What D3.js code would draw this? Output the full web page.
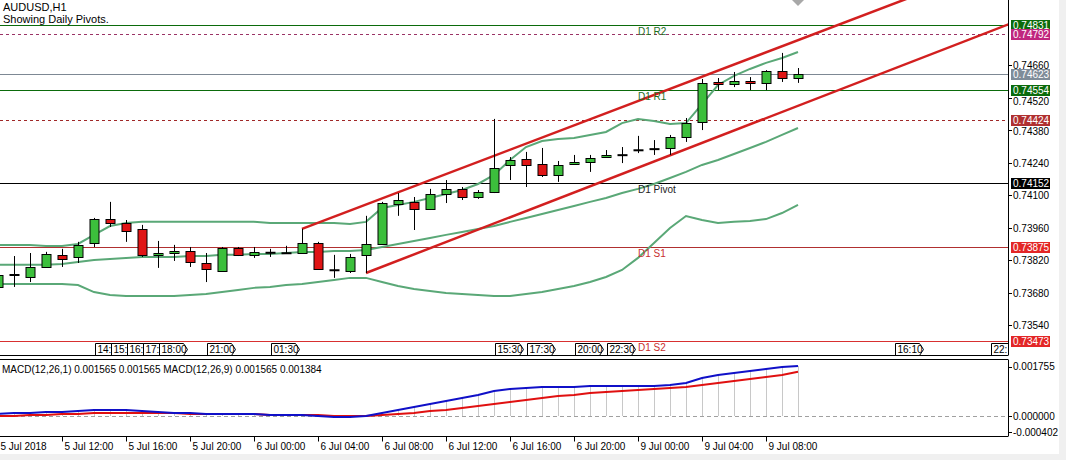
<!DOCTYPE html>
<html><head><meta charset="utf-8">
<script src="https://cdn.jsdelivr.net/npm/d3@7"></script>
<style>
html,body{margin:0;padding:0;background:#fff;}
svg{display:block;font-family:"Liberation Sans",Arial,sans-serif;}
</style></head><body>
<svg id="c" width="1066" height="460"></svg>
<script>
// ---------------- DATA ----------------
const symbolTitle = "AUDUSD,H1";
const subTitle = "Showing Daily Pivots.";
const opens = [0.73705,0.73757,0.73748,0.73791,0.73843,0.73834,0.73894,0.73998,0.73981,0.73955,
0.73843,0.73851,0.73860,0.73808,0.73774,0.73873,0.73843,0.73851,0.73851,0.73851,
0.73894,0.73778,0.73774,0.73843,0.73890,0.74062,0.74071,0.74041,0.74105,0.74127,
0.74092,0.74114,0.74230,0.74256,0.74234,0.74187,0.74234,0.74243,0.74264,0.74273,
0.74294,0.74299,0.74303,0.74350,0.74415,0.74587,0.74578,0.74591,0.74583,0.74634,
0.74604];
const highs = [0.73778,0.73838,0.73851,0.73856,0.73869,0.73899,0.74002,0.74071,0.73993,0.73972,
0.73903,0.73886,0.73877,0.73851,0.73877,0.73877,0.73877,0.73869,0.73882,0.73955,
0.73899,0.73843,0.73847,0.74011,0.74071,0.74109,0.74092,0.74127,0.74165,0.74135,
0.74122,0.74428,0.74264,0.74286,0.74303,0.74247,0.74273,0.74273,0.74294,0.74307,
0.74355,0.74337,0.74359,0.74432,0.74600,0.74604,0.74630,0.74608,0.74638,0.74712,
0.74647];
const lows = [0.73692,0.73705,0.73726,0.73787,0.73791,0.73808,0.73877,0.73963,0.73899,0.73834,
0.73787,0.73817,0.73791,0.73726,0.73774,0.73838,0.73830,0.73834,0.73847,0.73851,
0.73778,0.73744,0.73765,0.73765,0.73886,0.74011,0.73950,0.74036,0.74066,0.74079,
0.74084,0.74109,0.74165,0.74135,0.74178,0.74157,0.74234,0.74200,0.74260,0.74238,
0.74281,0.74273,0.74273,0.74329,0.74380,0.74552,0.74565,0.74552,0.74552,0.74587,
0.74583];
const closes = [0.73757,0.73756,0.73791,0.73847,0.73825,0.73886,0.73998,0.73981,0.73946,0.73843,
0.73851,0.73860,0.73812,0.73782,0.73873,0.73843,0.73856,0.73852,0.73850,0.73894,
0.73782,0.73777,0.73834,0.73890,0.74066,0.74079,0.74041,0.74105,0.74127,0.74092,
0.74114,0.74217,0.74251,0.74230,0.74187,0.74230,0.74243,0.74260,0.74273,0.74272,
0.74293,0.74298,0.74350,0.74410,0.74583,0.74578,0.74591,0.74583,0.74634,0.74604,
0.74623];
const bbUpper = [0.73886,0.73886,0.73886,0.73881,0.73881,0.73890,0.73929,0.73967,0.73980,0.73985,
0.73985,0.73985,0.73985,0.73985,0.73985,0.73985,0.73985,0.73980,0.73980,0.73980,
0.73980,0.73980,0.73976,0.73985,0.74045,0.74058,0.74071,0.74088,0.74105,0.74122,
0.74148,0.74187,0.74251,0.74307,0.74333,0.74342,0.74346,0.74359,0.74372,0.74410,
0.74428,0.74419,0.74406,0.74410,0.74492,0.74574,0.74613,0.74643,0.74669,0.74690,
0.74716];
const bbMiddle = [0.73800,0.73800,0.73800,0.73800,0.73804,0.73812,0.73821,0.73825,0.73830,0.73834,
0.73834,0.73834,0.73838,0.73838,0.73843,0.73843,0.73847,0.73847,0.73851,0.73855,
0.73855,0.73860,0.73860,0.73864,0.73877,0.73890,0.73903,0.73916,0.73929,0.73941,
0.73954,0.73967,0.73985,0.74002,0.74019,0.74036,0.74053,0.74071,0.74088,0.74109,
0.74127,0.74148,0.74174,0.74200,0.74230,0.74251,0.74277,0.74303,0.74329,0.74359,
0.74389];
const bbLower = [0.73718,0.73718,0.73718,0.73718,0.73718,0.73713,0.73683,0.73670,0.73666,0.73666,
0.73666,0.73666,0.73670,0.73675,0.73683,0.73692,0.73701,0.73705,0.73713,0.73718,
0.73726,0.73735,0.73744,0.73744,0.73726,0.73709,0.73696,0.73688,0.73679,0.73675,
0.73670,0.73666,0.73666,0.73675,0.73683,0.73696,0.73709,0.73726,0.73748,0.73778,
0.73830,0.73894,0.73959,0.74010,0.73993,0.73980,0.73985,0.73989,0.73997,0.74023,
0.74058];
const macdMain = [0.000063,0.000094,0.000094,0.000125,0.000125,0.000156,0.000188,0.000188,0.000188,0.000156,
0.000125,0.000094,0.000094,0.000063,0.000063,0.000063,0.000063,0.000031,0.000031,0.000031,
0.000000,-0.000031,-0.000031,0.000000,0.000094,0.000188,0.000281,0.000375,0.000469,0.000563,
0.000656,0.000781,0.000844,0.000875,0.000906,0.000906,0.000906,0.000938,0.000938,0.000938,
0.000938,0.000938,0.000969,0.001031,0.001188,0.001281,0.001344,0.001406,0.001469,0.001531,
0.001565];
const macdSignal = [0.000000,0.000000,0.000031,0.000031,0.000063,0.000063,0.000094,0.000094,0.000094,0.000094,
0.000094,0.000094,0.000063,0.000063,0.000063,0.000063,0.000063,0.000031,0.000031,0.000031,
0.000031,0.000000,0.000000,0.000000,0.000031,0.000063,0.000094,0.000156,0.000188,0.000250,
0.000313,0.000375,0.000438,0.000500,0.000563,0.000625,0.000656,0.000719,0.000750,0.000781,
0.000813,0.000844,0.000875,0.000906,0.000969,0.001031,0.001094,0.001156,0.001219,0.001281,
0.001384];
const priceTicks = [0.74660,0.74520,0.74380,0.74240,0.74100,0.73960,0.73820,0.73680,0.73540];
const timeTickBars = [0,4,8,12,16,20,24,28,32,36,40,44,48];
const timeTickLabels = ["5 Jul 2018","5 Jul 12:00","5 Jul 16:00","5 Jul 20:00","6 Jul 00:00","6 Jul 04:00",
  "6 Jul 08:00","6 Jul 12:00","6 Jul 16:00","6 Jul 20:00","9 Jul 00:00","9 Jul 04:00","9 Jul 08:00"];
const levelValues = [0.74831,0.74792,0.74623,0.74554,0.74424,0.74152,0.73875,0.73473];
const levelNames  = ["D1 R2","","","D1 R1","","D1 Pivot","D1 S1","D1 S2"];
const channelUpper = [[19,0.73955],[40,0.74505]];
const channelLower = [[23,0.73765],[40,0.74218]];
const eventBars = [6,7,8,9,10,13,17,31,33,36,38,56,62];
const eventLabels = ["14:00","15:00","16:00","17:00","18:00","21:00","01:30","15:30","17:30","20:00","22:30","16:10","22:00"];
const macdHeader = "MACD(12,26,1) 0.001565 0.001565 MACD(12,26,9) 0.001565 0.001384";
const macdAxisLabels = [0.001755,0.000000,-0.000402];

// ---------------- STYLES ----------------
const levelStyle = [
  {line:"#0b6b0b", dash:null,  box:"#0b6b0b", text:"#1f6e1f"},
  {line:"#9b3366", dash:"3,3", box:"#c0267e", text:null},
  {line:"#7d8894", dash:null,  box:"#7f8c99", text:null},
  {line:"#0b6b0b", dash:null,  box:"#0b6b0b", text:"#1f6e1f"},
  {line:"#a02828", dash:"3,3", box:"#b03030", text:null},
  {line:"#000000", dash:null,  box:"#000000", text:"#222222"},
  {line:"#b03030", dash:null,  box:"#e32626", text:"#c83030"},
  {line:"#d83030", dash:null,  box:"#e32626", text:"#c83030"}
];

const W=1066, H=460, plotR=1008, mainB=355.5, macdT=359.5, macdB=436.5;
const svg = d3.select("#c");
const n = opens.length;
const x = d3.scaleLinear().domain([0, n-1]).range([-2, 798]);
const y = d3.scaleLinear().domain([0.734100, 0.749397]).range([mainB, 0]);
const ym = d3.scaleLinear().domain([0, 0.0015625]).range([416, 366]);

svg.append("rect").attr("width",W).attr("height",H).attr("fill","#fff");
svg.append("rect").attr("x",1059).attr("y",0).attr("width",7).attr("height",H).attr("fill","#f0f0f0");
svg.append("rect").attr("x",0).attr("y",454).attr("width",W).attr("height",6).attr("fill","#f0f0f0");

const defs = svg.append("defs");
defs.append("clipPath").attr("id","cm").append("rect").attr("x",0).attr("y",0).attr("width",plotR).attr("height",mainB);
defs.append("clipPath").attr("id","cd").append("rect").attr("x",0).attr("y",macdT).attr("width",plotR).attr("height",macdB-macdT);

const gm = svg.append("g").attr("clip-path","url(#cm)");

// level lines
levelValues.forEach((v,i)=>{
  const yy = Math.round(y(v))+0.5;
  gm.append("line").attr("x1",0).attr("x2",plotR).attr("y1",yy).attr("y2",yy)
    .attr("stroke",levelStyle[i].line).attr("stroke-width",1)
    .attr("stroke-dasharray",levelStyle[i].dash);
});

// Bollinger bands
const idx = d3.range(n);
[bbUpper,bbMiddle,bbLower].forEach(arr=>{
  gm.append("path").datum(idx)
    .attr("d", d3.line().x(i=>x(i)).y(i=>y(arr[i])))
    .attr("fill","none").attr("stroke","#5aa877").attr("stroke-width",2);
});

// channel lines
[channelUpper, channelLower].forEach(c=>{
  const slope = (c[1][1]-c[0][1])/(c[1][0]-c[0][0]);
  const endBar = x.invert(plotR+10);
  const endVal = c[0][1] + slope*(endBar-c[0][0]);
  gm.append("line").attr("x1",x(c[0][0])).attr("y1",y(c[0][1]))
    .attr("x2",x(endBar)).attr("y2",y(endVal))
    .attr("stroke","#d21f1f").attr("stroke-width",2.5);
});

// candles
idx.forEach(i=>{
  const cx = Math.round(x(i))+0.5;
  gm.append("line").attr("x1",cx).attr("x2",cx)
    .attr("y1",y(highs[i])).attr("y2",y(lows[i])).attr("stroke","#000").attr("stroke-width",1);
  const yo = y(opens[i]), yc = y(closes[i]);
  if (Math.abs(yo-yc) < 1) {
    gm.append("line").attr("x1",cx-5).attr("x2",cx+5).attr("y1",yc).attr("y2",yc)
      .attr("stroke","#000").attr("stroke-width",2);
  } else {
    const top = Math.round(Math.min(yo,yc))+0.5, bot = Math.round(Math.max(yo,yc))+0.5;
    gm.append("rect").attr("x",cx-4.5).attr("y",top).attr("width",9).attr("height",bot-top)
      .attr("fill", closes[i]>opens[i] ? "#3cbf3c" : "#e01515")
      .attr("stroke","#000").attr("stroke-width",1);
  }
});

// level names
levelValues.forEach((v,i)=>{
  if (!levelNames[i]) return;
  gm.append("text").attr("x",638).attr("y",y(v)+10).attr("font-size",10)
    .attr("fill",levelStyle[i].text).text(levelNames[i]);
});

// event time markers (later labels overlap earlier ones, so earlier ones show truncated)
eventBars.forEach((b,i)=>{
  const x0 = Math.round(x(b))+1.5, t=343.5, bt=355.5, w=24, a=4;
  const next = i < eventBars.length-1 ? Math.round(x(eventBars[i+1]))+1.5 : plotR;
  const avail = next - x0;
  const label = avail >= 30 ? eventLabels[i] : eventLabels[i].slice(0, Math.max(1, Math.floor((avail-2)/4.6)));
  const g = gm.append("g");
  g.append("path").attr("d",`M${x0},${t}H${x0+w}L${x0+w+a},${(t+bt)/2}L${x0+w},${bt}H${x0}Z`)
    .attr("fill","#fff").attr("stroke","#000").attr("stroke-width",1);
  g.append("text").attr("x",x0+2).attr("y",353).attr("font-size",10).attr("fill","#000").text(label);
});

// chart shift marker
svg.append("path").attr("d",`M${x(n-1)-6},0H${x(n-1)+6}L${x(n-1)},6Z`).attr("fill","#a8a8a8");

// title
svg.append("text").attr("x",3).attr("y",11).attr("font-size",11).attr("fill","#000").text(symbolTitle);
svg.append("text").attr("x",3).attr("y",23).attr("font-size",11).attr("fill","#000").text(subTitle);

// main panel borders
svg.append("line").attr("x1",plotR+0.5).attr("x2",plotR+0.5).attr("y1",0).attr("y2",mainB).attr("stroke","#000");
svg.append("line").attr("x1",0).attr("x2",plotR).attr("y1",mainB).attr("y2",mainB).attr("stroke","#000");

// price axis (tick labels pushed clear of the coloured level boxes)
const boxTops = levelValues.map(v=>Math.round(y(v)));
priceTicks.forEach(v=>{
  const yy = Math.round(y(v))+0.5;
  let base = yy+3.5;
  boxTops.forEach(bt=>{
    const boxTextBottom = bt+4+2.2;
    if (base-9.2 < boxTextBottom && base > boxTextBottom) base = boxTextBottom+9.2;
  });
  svg.append("line").attr("x1",plotR).attr("x2",plotR+4).attr("y1",yy).attr("y2",yy).attr("stroke","#000");
  svg.append("text").attr("x",plotR+5).attr("y",base).attr("font-size",10).attr("fill","#000").text(v.toFixed(5));
});
levelValues.forEach((v,i)=>{
  const yy = Math.round(y(v));
  svg.append("rect").attr("x",plotR+3).attr("y",yy-5).attr("width",39).attr("height",11).attr("fill",levelStyle[i].box);
  svg.append("text").attr("x",plotR+5).attr("y",yy+4).attr("font-size",10).attr("fill","#fff").text(v.toFixed(5));
});

// MACD panel
const gd = svg.append("g").attr("clip-path","url(#cd)");
gd.append("line").attr("x1",0).attr("x2",plotR).attr("y1",ym(0)+0.5).attr("y2",ym(0)+0.5)
  .attr("stroke","#a0a0a0").attr("stroke-dasharray","4,3");
idx.forEach(i=>{
  const cx = Math.round(x(i))+0.5;
  gd.append("line").attr("x1",cx).attr("x2",cx).attr("y1",ym(0)).attr("y2",ym(macdMain[i]))
    .attr("stroke","#c8c8c8").attr("stroke-width",1);
});
gd.append("path").datum(idx).attr("d",d3.line().x(i=>x(i)).y(i=>ym(macdSignal[i])))
  .attr("fill","none").attr("stroke","#e01010").attr("stroke-width",2);
gd.append("path").datum(idx).attr("d",d3.line().x(i=>x(i)).y(i=>ym(macdMain[i])))
  .attr("fill","none").attr("stroke","#1010c8").attr("stroke-width",2);

svg.append("line").attr("x1",0).attr("x2",plotR).attr("y1",macdT).attr("y2",macdT).attr("stroke","#000");
svg.append("line").attr("x1",0).attr("x2",plotR).attr("y1",macdB).attr("y2",macdB).attr("stroke","#000");
svg.append("line").attr("x1",plotR+0.5).attr("x2",plotR+0.5).attr("y1",macdT).attr("y2",macdB).attr("stroke","#000");
svg.append("text").attr("x",2).attr("y",373).attr("font-size",10).attr("fill","#000").text(macdHeader);

macdAxisLabels.forEach((v,i)=>{
  let yy = ym(v);
  yy = Math.max(macdT+7, Math.min(macdB-4.5, yy));
  if (i===2) yy = macdB-4.5;
  svg.append("line").attr("x1",plotR).attr("x2",plotR+4).attr("y1",Math.round(yy)+0.5).attr("y2",Math.round(yy)+0.5).attr("stroke","#000");
  svg.append("text").attr("x",plotR+5).attr("y",yy+3.5).attr("font-size",10).attr("fill","#000").text(v.toFixed(6));
});

// time axis
timeTickBars.forEach((b,i)=>{
  const tx = Math.round(x(b))+0.5;
  svg.append("line").attr("x1",tx).attr("x2",tx).attr("y1",macdB).attr("y2",macdB+5).attr("stroke","#000");
  svg.append("text").attr("x",tx+2).attr("y",450).attr("font-size",10).attr("fill","#000").text(timeTickLabels[i]);
});
</script>
</body></html>
